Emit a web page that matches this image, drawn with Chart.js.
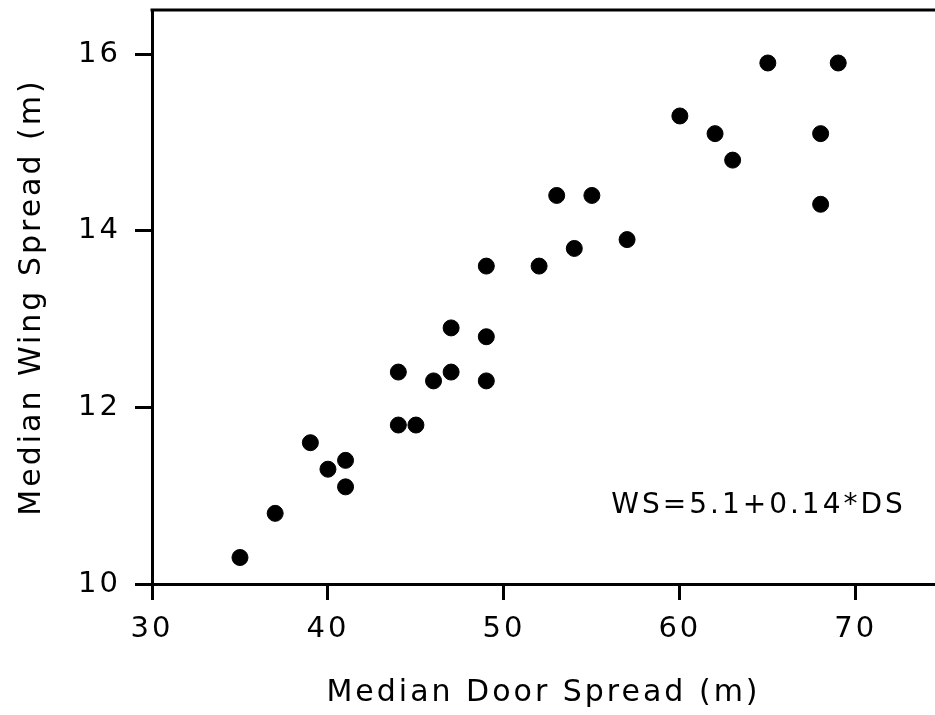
<!DOCTYPE html>
<html>
<head>
<meta charset="utf-8">
<script src="https://cdn.jsdelivr.net/npm/chart.js@4"></script>
<style>
  html, body { margin: 0; padding: 0; background: #fff; }
  #wrap { width: 935px; height: 715px; }
</style>
</head>
<body>
<div id="wrap"><canvas id="myChart" width="935" height="715"></canvas></div>
<script>
// median door spread (m) vs median wing spread (m)
const doorSpread = [35, 37, 39, 40, 41, 41, 44, 44, 45, 46, 47, 47, 49, 49, 49, 52, 53, 54, 55, 57, 60, 62, 63, 65, 68, 68, 69];
const wingSpread = [10.3, 10.8, 11.6, 11.3, 11.4, 11.1, 12.4, 11.8, 11.8, 12.3, 12.9, 12.4, 13.6, 12.8, 12.3, 13.6, 14.4, 13.8, 14.4, 13.9, 15.3, 15.1, 14.8, 15.9, 15.1, 14.3, 15.9];
const xTicks = [30, 40, 50, 60, 70];
const yTicks = [10, 12, 14, 16];
const equation = 'WS=5.1+0.14*DS';
const eqPos = [56.1, 10.89];

const points = doorSpread.map((d, i) => ({ x: d, y: wingSpread[i] }));
const FONT = "'DejaVu Sans', sans-serif";

const frame = {
  id: 'frame',
  beforeDraw(chart) {
    chart.ctx.letterSpacing = '3px';
  },
  afterDraw(chart) {
    const ctx = chart.ctx;
    const a = chart.chartArea;
    ctx.save();
    // top border
    ctx.strokeStyle = '#000';
    ctx.lineWidth = 3;
    ctx.beginPath();
    ctx.moveTo(a.left - 1.5, a.top);
    ctx.lineTo(a.right, a.top);
    ctx.stroke();
    // regression note
    const xs = chart.scales.x, ys = chart.scales.y;
    ctx.letterSpacing = '3px';
    ctx.fillStyle = '#000';
    ctx.font = '28px ' + FONT;
    ctx.textAlign = 'left';
    ctx.textBaseline = 'middle';
    ctx.fillText(equation, xs.getPixelForValue(eqPos[0]), ys.getPixelForValue(eqPos[1]));
    ctx.restore();
  }
};

const config = {
  type: 'scatter',
  data: {
    datasets: [{
      label: 'Wing spread',
      data: points,
      backgroundColor: '#000',
      borderColor: '#000',
      pointRadius: 8,
      pointHoverRadius: 8,
    }]
  },
  options: {
    responsive: false,
    animation: false,
    layout: { autoPadding: false, padding: { top: 10, right: 0, left: 0, bottom: 0 } },
    scales: {
      x: {
        type: 'linear',
        min: 30,
        max: 74.5,
        afterFit(s) { s.height = 131; s.paddingLeft = 0; s.paddingRight = 0; },
        afterBuildTicks(s) { s.ticks = xTicks.map(v => ({ value: v })); },
        ticks: { includeBounds: false, color: '#000', padding: 12, font: { family: FONT, size: 29 } },
        grid: { drawOnChartArea: false, drawTicks: true, tickLength: 16, tickWidth: 3, color: '#000' },
        border: { display: true, width: 3, color: '#000' },
        title: { display: true, text: 'Median Door Spread (m)', color: '#000', padding: { top: 14 }, font: { family: FONT, size: 30 } }
      },
      y: {
        type: 'linear',
        min: 10,
        max: 16.5,
        afterFit(s) { s.width = 152; s.paddingTop = 0; s.paddingBottom = 0; },
        afterBuildTicks(s) { s.ticks = yTicks.map(v => ({ value: v })); },
        ticks: { includeBounds: false, color: '#000', padding: 14, font: { family: FONT, size: 29 } },
        grid: { drawOnChartArea: false, drawTicks: true, tickLength: 17, tickWidth: 3, color: '#000' },
        border: { display: true, width: 3, color: '#000' },
        title: { display: true, text: 'Median Wing Spread (m)', color: '#000', padding: { top: 14, bottom: 0 }, font: { family: FONT, size: 30 } }
      }
    },
    plugins: {
      legend: { display: false },
      tooltip: { enabled: false },
      title: { display: false }
    }
  },
  plugins: [frame]
};

const ctx = document.getElementById('myChart');
const myChart = new Chart(ctx, config);
</script>
</body>
</html>
